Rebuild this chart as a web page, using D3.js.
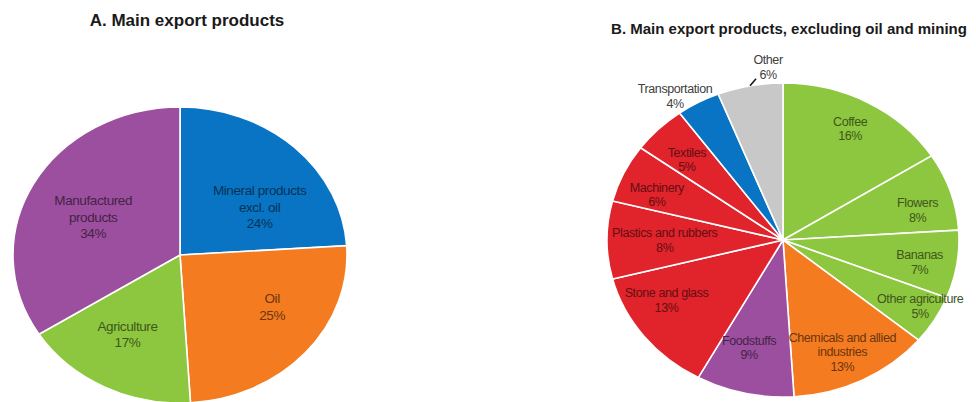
<!DOCTYPE html>
<html>
<head>
<meta charset="utf-8">
<script src="https://cdn.jsdelivr.net/npm/d3@7"></script>
<style>
  html, body { margin: 0; padding: 0; background: #ffffff; }
  svg { display: block; font-family: "Liberation Sans", Arial, sans-serif; }
</style>
</head>
<body>
<svg id="chart" width="976" height="402"></svg>
<script>
// Panel A: main export products (share of total, %)
const exportLabels = [["Mineral products", "excl. oil"], ["Oil"], ["Agriculture"], ["Manufactured", "products"]];
const exportValues = [24, 25, 17, 34];

// Panel B: main export products excluding oil and mining (share, %)
const nonOilLabels = [
  ["Coffee"], ["Flowers"], ["Bananas"], ["Other agriculture"],
  ["Chemicals and allied", "industries"], ["Foodstuffs"], ["Stone and glass"],
  ["Plastics and rubbers"], ["Machinery"], ["Textiles"], ["Transportation"], ["Other"]
];
const nonOilValues = [16, 8, 7, 5, 13, 9, 13, 8, 6, 5, 4, 6];

// Slice fills
const exportColors = ["#0a74c4", "#f47b20", "#8dc63f", "#9c4f9f"];
const nonOilColors = ["#8dc63f", "#8dc63f", "#8dc63f", "#8dc63f", "#f47b20", "#9c4f9f",
                      "#e1232b", "#e1232b", "#e1232b", "#e1232b", "#0a74c4", "#c8c8c8"];

const svg = d3.select("#chart");

function drawPie(cfg) {
  const { labels, values, colors, cx, cy, rx, ry, labelK, outside, nudge,
          fontSize, lineH, title, titleX, titleY, titleSize } = cfg;

  svg.append("text")
    .attr("x", titleX).attr("y", titleY)
    .attr("text-anchor", "middle")
    .attr("font-weight", "bold")
    .attr("font-size", titleSize)
    .attr("fill", "#1a1a1a")
    .text(title);

  const items = values.map((v, i) => ({ value: v, lines: labels[i], color: colors[i], i }));
  const pie = d3.pie().sort(null).value(d => d.value);
  const arcs = pie(items);

  // Elliptical pie: arcs drawn on radius ry, then stretched horizontally.
  const arc = d3.arc().innerRadius(0).outerRadius(ry);
  const g = svg.append("g")
    .attr("transform", `translate(${cx},${cy}) scale(${rx / ry},1)`);
  g.selectAll("path").data(arcs).join("path")
    .attr("d", arc)
    .attr("fill", d => d.data.color)
    .attr("stroke", "#ffffff")
    .attr("stroke-width", 1.6)
    .attr("vector-effect", "non-scaling-stroke");

  const mid = d => (d.startAngle + d.endAngle) / 2;
  const pointAt = (a, k) => [cx + Math.sin(a) * rx * k, cy - Math.cos(a) * ry * k];

  const lg = svg.append("g")
    .attr("font-size", fontSize)
    .attr("letter-spacing", "-0.4px")
    .attr("text-anchor", "middle");

  arcs.forEach(d => {
    const isOut = outside.includes(d.data.i);
    const [px, py] = pointAt(mid(d), isOut ? 1.12 : labelK);
    const [nx, ny] = nudge[d.data.i] || [0, 0];
    const x = px + nx, y = py + ny;
    const lines = d.data.lines.concat([d.value + "%"]);
    const fill = isOut ? "#404040" : d3.color(d.data.color).darker(2.3).formatHex();
    const t = lg.append("text").attr("fill", fill);
    lines.forEach((s, j) => {
      t.append("tspan")
        .attr("x", x)
        .attr("y", y + (j - (lines.length - 1) / 2) * lineH)
        .attr("dy", "0.35em")
        .text(s);
    });
  });
  return { arcs, pointAt, mid };
}

drawPie({
  labels: exportLabels, values: exportValues, colors: exportColors,
  cx: 180, cy: 255, rx: 167, ry: 148, labelK: 0.6, outside: [],
  nudge: { 0: [11, 17], 1: [17, -7], 2: [-7, 0], 3: [1, 5] },
  fontSize: 13.5, lineH: 16.5,
  title: "A. Main export products", titleX: 187, titleY: 26, titleSize: 17
});

const b = drawPie({
  labels: nonOilLabels, values: nonOilValues, colors: nonOilColors,
  cx: 783, cy: 240, rx: 176, ry: 157, labelK: 0.78, outside: [10, 11],
  nudge: { 0: [1, -4], 1: [4, 8], 2: [1, 3], 3: [19, 4], 4: [-3, 3], 5: [-4, -12],
           6: [-8, -15], 7: [19, 0], 8: [-2, 7], 9: [1, 6], 10: [-13, 10], 11: [22, 0] },
  fontSize: 12.5, lineH: 14.5,
  title: "B. Main export products, excluding oil and mining", titleX: 789, titleY: 34, titleSize: 15
});

// Leader line from the "Other" slice to its label
const other = b.arcs[nonOilValues.length - 1];
const [ex, ey] = b.pointAt(b.mid(other), 1.0);
svg.append("line")
  .attr("x1", ex).attr("y1", ey)
  .attr("x2", ex + 6).attr("y2", ey - 7)
  .attr("stroke", "#1a1a1a")
  .attr("stroke-width", 1.6);
</script>
</body>
</html>
